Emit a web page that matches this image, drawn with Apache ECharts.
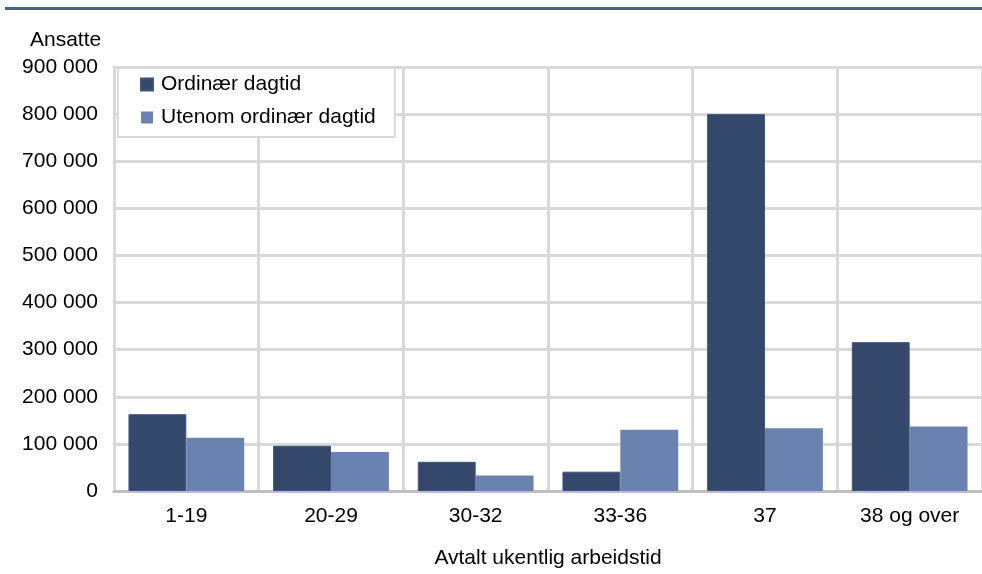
<!DOCTYPE html>
<html><head><meta charset="utf-8">
<script src="https://cdn.jsdelivr.net/npm/echarts@6/dist/echarts.min.js"></script>
<style>html,body{margin:0;padding:0;background:#fff}#c{width:982px;height:574px}</style>
</head><body><div id="c"></div>
<script>
const categories = ['1-19', '20-29', '30-32', '33-36', '37', '38 og over'];
const ordinaer = [163000, 96000, 62000, 41000, 800000, 316000];
const utenom = [113000, 83000, 33000, 130000, 133000, 137000];
const seriesNames = ['Ordinær dagtid', 'Utenom ordinær dagtid'];
const yAxisTitle = 'Ansatte';
const xAxisTitle = 'Avtalt ukentlig arbeidstid';

const font = 'Liberation Sans, Arial, sans-serif';
const chart = echarts.init(document.getElementById('c'));
chart.setOption({
  animation: false,
  textStyle: { fontFamily: font },
  graphic: [
    { type: 'rect', left: 5, top: 7, shape: { width: 977, height: 3 }, style: { fill: '#44608e' } },
    { type: 'text', left: 30, top: 30, style: { text: yAxisTitle, font: '21px ' + font, fill: '#000' } }
  ],
  legend: {
    orient: 'vertical', left: 118, top: 68,
    backgroundColor: '#fff', borderColor: '#d9d9d9', borderWidth: 2,
    padding: [6, 19, 9, 22], itemGap: 12,
    itemWidth: 12, itemHeight: 12, icon: 'rect',
    textStyle: { fontSize: 21, color: '#000', fontFamily: font, padding: [0, 0, 0, 3] },
    data: seriesNames
  },
  grid: { left: 114, top: 67, width: 876, height: 429, containLabel: false },
  xAxis: {
    type: 'category', data: categories,
    axisLine: { lineStyle: { color: '#bfbfbf', width: 3 } },
    axisTick: { show: false },
    splitLine: { show: true, lineStyle: { color: '#d9d9d9', width: 3 } },
    axisLabel: { fontSize: 21, color: '#000', margin: 15, fontFamily: font },
    name: xAxisTitle, nameLocation: 'middle', nameGap: 57,
    nameTextStyle: { fontSize: 21, color: '#000', fontFamily: font }
  },
  yAxis: {
    type: 'value', min: 0, max: 900000, interval: 100000,
    axisLine: { show: true, lineStyle: { color: '#d9d9d9', width: 3 } },
    axisTick: { show: false },
    splitLine: { lineStyle: { color: '#d9d9d9', width: 3 } },
    axisLabel: {
      fontSize: 21, color: '#000', margin: 16, fontFamily: font,
      formatter: v => String(v).replace(/\B(?=(\d{3})+(?!\d))/g, ' ')
    }
  },
  series: [
    { name: seriesNames[0], type: 'bar', data: ordinaer, barGap: '0%', barCategoryGap: '20%',
      itemStyle: { color: '#34486b', borderColor: '#3d5580', borderWidth: 1 } },
    { name: seriesNames[1], type: 'bar', data: utenom,
      itemStyle: { color: '#6a82b0' } }
  ]
});
</script></body></html>
